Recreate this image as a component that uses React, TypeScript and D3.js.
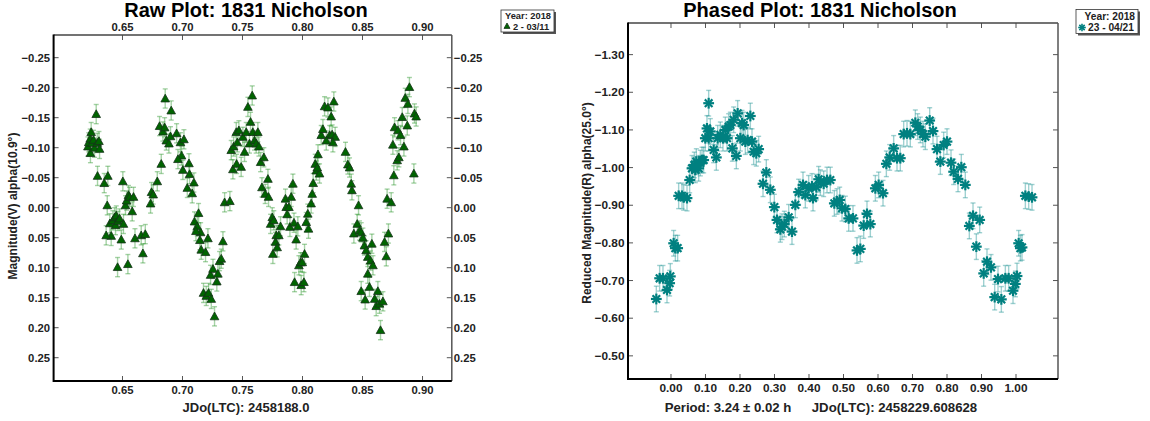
import React from "react";
import * as d3 from "d3";

// ---------- DATA ----------
const rawTitle = "Raw Plot: 1831 Nicholson";
const phaseTitle = "Phased Plot: 1831 Nicholson";
const rawXLabel = "JDo(LTC): 2458188.0";
const rawYLabel = "Magnitude(V) alpha(10.9°)";
const phaseYLabel = "Reduced Magnitude(R) alpha(25.0°)";
const phasePeriodLabel = "Period: 3.24 ± 0.02 h";
const phaseXLabel = "JDo(LTC): 2458229.608628";
const rawLegend = ["Year: 2018", "2 - 03/11"];
const phaseLegend = ["Year: 2018", "23 - 04/21"];

const rawXTicks = [0.65, 0.7, 0.75, 0.8, 0.85, 0.9];
const rawYTicks = [-0.25, -0.2, -0.15, -0.1, -0.05, 0, 0.05, 0.1, 0.15, 0.2, 0.25];
const phaseXTicks = [0, 0.1, 0.2, 0.3, 0.4, 0.5, 0.6, 0.7, 0.8, 0.9, 1.0];
const phaseYTicks = [-1.3, -1.2, -1.1, -1.0, -0.9, -0.8, -0.7, -0.6, -0.5];

const rawErr = 0.016;
const phaseErr = 0.034;

// [JD fraction, magnitude]
const rawObs: [number, number][] = [
  [0.6212,-0.102],[0.6219,-0.109],[0.6231,-0.115],[0.6239,-0.126],[0.6247,-0.108],[0.6233,-0.091],[0.6259,-0.113],[0.6267,-0.100],[0.6281,-0.156],[0.6290,-0.108],[0.6304,-0.111],[0.6309,-0.098],[0.6292,-0.053],[0.6348,-0.041],[0.6378,-0.053],[0.6373,-0.004],[0.6395,0.026],[0.6406,0.047],[0.6364,0.046],[0.6420,0.021],[0.6434,0.016],[0.6448,0.013],[0.6442,0.029],[0.6462,0.022],[0.6476,0.018],[0.6490,0.053],[0.6508,0.027],[0.6503,-0.044],[0.6525,-0.004],[0.6534,-0.012],[0.6550,-0.021],[0.6559,-0.018],[0.6592,-0.018],[0.6581,0.006],[0.6604,0.051],[0.6459,0.099],[0.6545,0.094],[0.6656,0.046],[0.6690,0.044],[0.6670,0.076],[0.6734,-0.007],[0.6742,-0.026],[0.6756,-0.022],[0.6790,-0.044],[0.6823,-0.073],[0.6809,-0.136],[0.6837,-0.127],[0.6851,-0.134],[0.6856,-0.182],[0.6906,-0.162],[0.6865,-0.112],[0.6887,-0.107],[0.6900,-0.119],[0.6951,-0.124],[0.6983,-0.109],[0.7012,-0.114],[0.6992,-0.087],[0.6962,-0.081],[0.7003,-0.063],[0.7054,-0.074],[0.7059,-0.056],[0.7040,-0.033],[0.7081,-0.024],[0.7095,-0.042],[0.7134,0.009],[0.7100,0.023],[0.7123,0.031],[0.7151,0.041],[0.7112,0.039],[0.7145,0.054],[0.7212,0.051],[0.7156,0.070],[0.7192,0.074],[0.7175,0.142],[0.7198,0.147],[0.7217,0.142],[0.7240,0.152],[0.7234,0.112],[0.7254,0.102],[0.7286,0.123],[0.7295,0.110],[0.7309,0.089],[0.7323,0.085],[0.7267,0.181],[0.7337,0.056],[0.7351,-0.009],[0.7395,-0.011],[0.7420,-0.064],[0.7406,-0.096],[0.7426,-0.102],[0.7448,-0.126],[0.7457,-0.109],[0.7470,-0.129],[0.7451,-0.073],
  [0.7489,-0.068],[0.7503,-0.118],[0.7517,-0.093],[0.7531,-0.126],[0.7545,-0.168],[0.7567,-0.143],[0.7581,-0.187],[0.7558,-0.107],[0.7586,-0.126],[0.7600,-0.112],[0.7614,-0.107],[0.7628,-0.126],[0.7637,-0.102],[0.7651,-0.076],[0.7662,-0.034],[0.7678,-0.084],[0.7689,-0.023],[0.7712,-0.048],[0.7717,-0.018],[0.7734,0.027],[0.7748,0.016],[0.7761,0.021],[0.7753,0.077],[0.7775,0.057],[0.7789,0.066],[0.7781,0.046],[0.7803,0.046],[0.7817,0.031],[0.7858,-0.015],[0.7864,-0.001],[0.7872,0.011],[0.7887,-0.001],[0.7906,-0.018],[0.7920,-0.040],[0.7895,0.032],[0.7929,0.025],[0.7947,0.053],[0.7961,0.031],[0.7970,0.096],[0.7984,0.091],[0.7998,0.091],[0.8017,0.077],[0.7934,0.124],[0.7989,0.129],[0.8012,0.124],[0.8031,0.024],[0.8044,0.010],[0.8050,0.035],[0.8072,-0.007],[0.8081,-0.023],[0.8089,-0.041],[0.8106,-0.073],[0.8115,-0.062],[0.8129,-0.089],[0.8142,-0.057],[0.8123,-0.067],[0.8156,-0.121],[0.8170,-0.131],[0.8184,-0.169],[0.8212,-0.167],[0.8226,-0.121],[0.8239,-0.152],[0.8247,-0.122],[0.8261,-0.177],[0.8272,-0.118],[0.8253,-0.109],[0.8198,-0.112],[0.8358,-0.093],[0.8378,-0.072],[0.8392,-0.067],[0.8406,-0.040],[0.8412,-0.029],[0.8467,-0.004],[0.8428,0.043],[0.8456,0.027],[0.8475,0.038],[0.8489,0.041],[0.8503,0.050],[0.8516,0.063],[0.8530,0.071],[0.8544,0.082],[0.8567,0.088],[0.8578,0.060],[0.8587,0.096],[0.8544,0.110],[0.8558,0.132],[0.8489,0.139],[0.8522,0.153],[0.8601,0.152],[0.8614,0.164],[0.8628,0.139],[0.8642,0.160],[0.8670,0.156],[0.8650,0.204],[0.8684,0.057],[0.8698,0.081],[0.8716,0.043],[0.8705,-0.015],[0.8739,-0.009],[0.8761,-0.054],[0.8753,-0.105],[0.8789,-0.079],[0.8803,-0.084],[0.8767,-0.134],[0.8795,-0.129],[0.8817,-0.121],[0.8831,-0.151],[0.8845,-0.102],[0.8856,-0.183],[0.8873,-0.137],[0.8878,-0.173],[0.8891,-0.201],[0.8928,-0.057],[0.8933,-0.157],[0.8947,-0.152],
];

// [phase, reduced magnitude]
const phaseObs: [number, number][] = [
  [-0.0425,-0.651],[-0.0329,-0.706],[-0.0232,-0.706],[-0.0116,-0.675],[-0.0039,-0.693],[-0.0019,-0.711],[0.0077,-0.799],[0.0126,-0.786],[0.0193,-0.786],[0.0222,-0.925],[0.0319,-0.925],[0.0367,-0.921],[0.0464,-0.919],[0.0541,-0.967],[0.0609,-0.998],[0.0676,-1.007],[0.0734,-1.016],[0.0802,-0.998],[0.0850,-1.012],[0.0899,-1.020],[0.0947,-1.020],[0.0705,-0.994],[0.0995,-1.078],[0.1043,-1.104],[0.1092,-1.171],[0.1092,-1.078],[0.1140,-1.096],[0.1237,-1.047],[0.1314,-1.027],[0.1353,-1.078],[0.1430,-1.087],[0.1507,-1.078],[0.1575,-1.100],[0.1623,-1.078],[0.1671,-1.109],[0.1720,-1.113],[0.1778,-1.051],[0.1816,-1.127],[0.1894,-1.031],[0.1932,-1.144],[0.2010,-1.078],[0.2058,-1.118],[0.2106,-1.113],[0.2155,-1.069],[0.2222,-1.073],[0.2300,-1.137],[0.2348,-1.069],[0.2396,-1.042],[0.2473,-1.038],[0.2541,-1.049],[0.2667,-0.957],[0.2763,-0.987],[0.2879,-0.941],[0.2995,-0.895],[0.3072,-0.861],[0.3169,-0.836],[0.3217,-0.843],[0.3285,-0.850],[0.3411,-0.868],[0.3507,-0.830],[0.3604,-0.901],[0.3700,-0.935],[0.3826,-0.954],[0.3894,-0.927],[0.3990,-0.945],[0.4116,-0.919],[0.4087,-0.950],[0.4213,-0.948],[0.4280,-0.969],[0.4329,-0.960],[0.4425,-0.957],[0.4522,-0.967],[0.4618,-0.967],[0.4734,-0.905],[0.4812,-0.910],[0.4889,-0.914],[0.4957,-0.892],[0.5053,-0.890],[0.5150,-0.865],[0.5275,-0.865],[0.5391,-0.780],[0.5488,-0.784],[0.5585,-0.846],[0.5681,-0.877],[0.5778,-0.850],[0.5923,-0.945],[0.6019,-0.954],[0.6145,-0.932],[0.6242,-1.010],[0.6338,-1.027],[0.6454,-1.051],[0.6551,-1.025],[0.6647,-1.025],[0.6744,-1.089],[0.6841,-1.091],[0.6937,-1.089],[0.7082,-1.119],[0.7150,-1.109],[0.7227,-1.100],[0.7304,-1.089],[0.7372,-1.082],[0.7498,-1.125],[0.7594,-1.097],[0.7710,-1.049],[0.7807,-1.016],[0.7903,-1.060],[0.8000,-1.069],[0.8116,-1.013],[0.8193,-0.989],[0.8319,-0.970],[0.8415,-1.001],[0.8531,-0.954],[0.8647,-0.845],[0.8754,-0.872],[0.8947,-0.861],[0.8850,-0.790],[0.9063,-0.719],[0.9159,-0.750],[0.9275,-0.735],[0.9382,-0.656],[0.9478,-0.704],[0.9575,-0.650],[0.9691,-0.706],[0.9787,-0.706],[0.9913,-0.673],[0.9981,-0.691],[1.0029,-0.712],[1.0077,-0.799],[1.0126,-0.786],[1.0174,-0.788],[1.0271,-0.925],[1.0367,-0.923],[1.0464,-0.921],
];

// ---------- DRAWING ----------
const FONT = "'Liberation Sans', Arial, sans-serif";
const rawGreen = "#006400";
const teal = "#008080";

type Frame = { left: number; right: number; top: number; bottom: number };

function FrameAxes({
  f, x, y, xTicks, yTicks, fmtX, fmtY, topLabels, rightLabels, fs,
}: {
  f: Frame; x: d3.ScaleLinear<number, number>; y: d3.ScaleLinear<number, number>;
  xTicks: number[]; yTicks: number[]; fmtX: (v: number) => string; fmtY: (v: number) => string;
  topLabels: boolean; rightLabels: boolean; fs: number;
}) {
  const tl = 5;
  const tickStroke = "#555";
  return (
    <g fontFamily={FONT} fontWeight="bold" fontSize={fs} fill="#222">
      {xTicks.map((t) => (
        <g key={"x" + t}>
          <line x1={x(t)} x2={x(t)} y1={f.bottom} y2={f.bottom - tl} stroke={tickStroke} />
          <line x1={x(t)} x2={x(t)} y1={f.top} y2={f.top + tl} stroke={tickStroke} />
          <text x={x(t)} y={f.bottom + 13} textAnchor="middle">{fmtX(t)}</text>
          {topLabels && <text x={x(t)} y={f.top - 4} textAnchor="middle">{fmtX(t)}</text>}
        </g>
      ))}
      {yTicks.map((t) => (
        <g key={"y" + t}>
          <line x1={f.left} x2={f.left + tl} y1={y(t)} y2={y(t)} stroke={tickStroke} />
          <line x1={f.right} x2={f.right - tl} y1={y(t)} y2={y(t)} stroke={tickStroke} />
          <text x={f.left - 3.5} y={y(t)} dy="0.35em" textAnchor="end">{fmtY(t)}</text>
          {rightLabels && <text x={f.right + 2} y={y(t)} dy="0.35em" textAnchor="start">{fmtY(t)}</text>}
        </g>
      ))}
      <line x1={f.left} x2={f.right} y1={f.top} y2={f.top} stroke="#444" strokeWidth={1.5} />
      <line x1={f.right} x2={f.right} y1={f.top} y2={f.bottom} stroke="#555" strokeWidth={1.5} />
      <line x1={f.left} x2={f.left} y1={f.top - 0.5} y2={f.bottom + 1} stroke="#000" strokeWidth={2} />
      <line x1={f.left} x2={f.right} y1={f.bottom} y2={f.bottom} stroke="#000" strokeWidth={2} />
    </g>
  );
}

function Legend({ x, y, w, h, lines, symbol, fs }: { x: number; y: number; w: number; h: number; lines: string[]; symbol: React.ReactNode; fs: number }) {
  return (
    <g fontFamily={FONT} fontWeight="bold" fontSize={fs}>
      <rect x={x + 2} y={y + 2} width={w} height={h} fill="#555" />
      <rect x={x} y={y} width={w} height={h} fill="#fff" stroke="#333" strokeWidth={0.8} />
      <text x={x + w - 3} y={y + fs} textAnchor="end" fill="#222">{lines[0]}</text>
      <g transform={`translate(${x + 6},${y + h - 6})`}>{symbol}</g>
      <text x={x + 12} y={y + h - 2.5} fill="#222">{lines[1]}</text>
    </g>
  );
}

function Triangle({ s = 4.3, fill = rawGreen }: { s?: number; fill?: string }) {
  return <path d={`M0,${-s} L${s},${s * 0.8} L${-s},${s * 0.8} Z`} fill={fill} stroke="#16321a" strokeWidth={0.8} />;
}

function Star({ r = 4.3, color = teal, w = 2.2 }: { r?: number; color?: string; w?: number }) {
  const d = r * Math.SQRT1_2;
  return (
    <g stroke={color} strokeWidth={w} strokeLinecap="square">
      <line x1={-r} x2={r} y1={0} y2={0} />
      <line x1={0} x2={0} y1={-r} y2={r} />
      <line x1={-d} x2={d} y1={-d} y2={d} />
      <line x1={-d} x2={d} y1={d} y2={-d} />
    </g>
  );
}

export default function App() {
  const rawF: Frame = { left: 53.6, right: 451.8, top: 35, bottom: 381 };
  const phF: Frame = { left: 628, right: 1058, top: 23, bottom: 379 };

  const rawX = d3.scaleLinear().domain([0.5926, 0.9244]).range([rawF.left, rawF.right]);
  const rawY = d3.scaleLinear().domain([-0.2878, 0.2888]).range([rawF.top, rawF.bottom]);
  const phX = d3.scaleLinear().domain([-0.1246, 1.1217]).range([phF.left, phF.right]);
  const phY = d3.scaleLinear().domain([-1.384, -0.4385]).range([phF.top, phF.bottom]);

  const f2 = d3.format(".2f");
  const cap = 2.5;

  return (
    <svg width={1150} height={421} style={{ position: "absolute", left: 0, top: 0, background: "#fff" }}>
      <rect width={1150} height={421} fill="#fff" />
      {/* Titles */}
      <text x={246} y={17} textAnchor="middle" fontFamily={FONT} fontWeight="bold" fontSize={20} fill="#000">{rawTitle}</text>
      <text x={820} y={17} textAnchor="middle" fontFamily={FONT} fontWeight="bold" fontSize={20} fill="#000">{phaseTitle}</text>

      {/* Raw plot */}
      <FrameAxes f={rawF} x={rawX} y={rawY} xTicks={rawXTicks} yTicks={rawYTicks} fmtX={f2} fmtY={f2} topLabels rightLabels fs={11.3} />
      <g>
        {rawObs.map(([t, m], i) => {
          const cx = rawX(t), y1 = rawY(m - rawErr), y2 = rawY(m + rawErr);
          return (
            <g key={"re" + i} stroke="#3a9e3a" strokeOpacity={0.45} strokeWidth={1.4}>
              <line x1={cx} x2={cx} y1={y1} y2={y2} />
              <line x1={cx - cap} x2={cx + cap} y1={y1} y2={y1} />
              <line x1={cx - cap} x2={cx + cap} y1={y2} y2={y2} />
            </g>
          );
        })}
        {rawObs.map(([t, m], i) => (
          <g key={"rp" + i} transform={`translate(${rawX(t)},${rawY(m)})`}>
            <Triangle />
          </g>
        ))}
      </g>
      <text x={246} y={412} textAnchor="middle" fontFamily={FONT} fontWeight="bold" fontSize={13} fill="#222">{rawXLabel}</text>
      <text transform={`translate(17,206) rotate(-90)`} textAnchor="middle" fontFamily={FONT} fontWeight="bold" fontSize={12} fill="#222">{rawYLabel}</text>
      <Legend x={501} y={10} w={53} h={22} lines={rawLegend} symbol={<Triangle s={3} />} fs={9.3} />

      {/* Phased plot */}
      <FrameAxes f={phF} x={phX} y={phY} xTicks={phaseXTicks} yTicks={phaseYTicks} fmtX={f2} fmtY={f2} topLabels={false} rightLabels={false} fs={11.8} />
      <g>
        {phaseObs.map(([p, m], i) => {
          const cx = phX(p), y1 = phY(m - phaseErr), y2 = phY(m + phaseErr);
          return (
            <g key={"pe" + i} stroke="#2a9a9a" strokeOpacity={0.45} strokeWidth={1.4}>
              <line x1={cx} x2={cx} y1={y1} y2={y2} />
              <line x1={cx - cap} x2={cx + cap} y1={y1} y2={y1} />
              <line x1={cx - cap} x2={cx + cap} y1={y2} y2={y2} />
            </g>
          );
        })}
        {phaseObs.map(([p, m], i) => (
          <g key={"pp" + i} transform={`translate(${phX(p)},${phY(m)})`}>
            <Star />
          </g>
        ))}
      </g>
      <text x={728} y={412} textAnchor="middle" fontFamily={FONT} fontWeight="bold" fontSize={13.2} fill="#222">{phasePeriodLabel}</text>
      <text x={894.5} y={412} textAnchor="middle" fontFamily={FONT} fontWeight="bold" fontSize={13.2} fill="#222">{phaseXLabel}</text>
      <text transform={`translate(591,203) rotate(-90)`} textAnchor="middle" fontFamily={FONT} fontWeight="bold" fontSize={12} fill="#222">{phaseYLabel}</text>
      <Legend x={1076} y={9.5} w={62} h={24} lines={phaseLegend} symbol={<Star r={3} w={1.6} />} fs={10.2} />
    </svg>
  );
}
